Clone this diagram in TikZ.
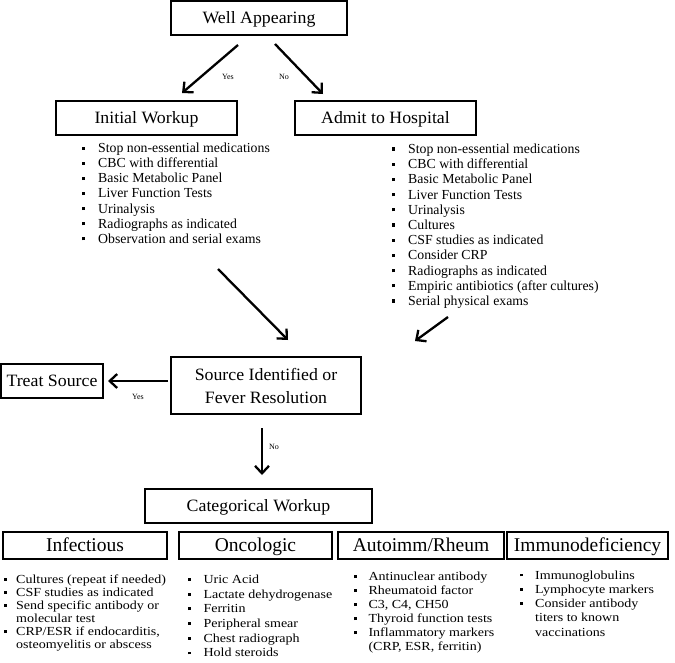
\documentclass[tikz,border=0pt]{standalone}
\usepackage{fontspec}
\setmainfont{Liberation Serif}
\newfontfamily\btfont[FakeStretch=1.14]{Liberation Serif}
\newfontfamily\hdfont[FakeStretch=1.03]{Liberation Serif}
\usetikzlibrary{arrows.meta}
\newlength{\liW}\newlength{\liS}\newlength{\liR}
\newcommand{\LI}[1]{\strut\makebox[\liW][l]{\rule[\liR]{\liS}{\liS}}#1}
\newcommand{\LC}[1]{\strut\hspace*{\liW}#1}
\tikzset{
  box/.style={draw, line width=1.1pt, inner sep=0pt, align=center},
  hd/.style={box, font=\hdfont\fontsize{17.3}{23}\selectfont, text height=11.45pt, text depth=0pt},
  hd2/.style={box, font=\hdfont\fontsize{17.3}{23}\selectfont},
  sub/.style={box, font=\fontsize{19.5}{23}\selectfont, text height=12.9pt, text depth=0pt},
  lab/.style={inner sep=0pt, font=\fontsize{8}{9}\selectfont},
  arr/.style={line width=2.3pt, -{Straight Barb[length=7.5pt,width=14pt,line width=2.3pt]}},
  toplist/.style={anchor=north west, inner sep=0pt, align=left,
    font=\fontsize{13.8}{#1}\selectfont},
  botlist/.style={anchor=north west, inner sep=0pt, align=left,
    font=\btfont\fontsize{12.3}{#1}\selectfont},
}
\begin{document}
\begin{tikzpicture}[x=1pt,y=-1pt]
\useasboundingbox (0,0) rectangle (675,662);

% header boxes
\node[hd, minimum width=176pt, minimum height=34pt] (well) at (259,18) {Well Appearing};
\node[hd, minimum width=181pt, minimum height=34pt] (init) at (146.5,118) {Initial Workup};
\node[hd, minimum width=181pt, minimum height=34pt] (admit) at (385.5,118) {Admit to Hospital};
\node[hd2, minimum width=190pt, minimum height=57pt] (src) at (266,385.5) {Source Identified or\\Fever Resolution};
\node[hd, minimum width=102pt, minimum height=34pt] (treat) at (52,381) {Treat Source};
\node[hd, minimum width=227pt, minimum height=34pt] (cat) at (258.5,506) {Categorical Workup};

\node[sub, minimum width=164pt, minimum height=27pt] (inf) at (85,545.5) {Infectious};
\node[sub, minimum width=153pt, minimum height=27pt] (onc) at (255.5,545.5) {Oncologic};
\node[sub, minimum width=166pt, minimum height=27pt] (aut) at (421,545.5) {Autoimm/Rheum};
\node[sub, minimum width=161pt, minimum height=27pt] (imm) at (587.5,545.5) {Immunodeficiency};

% lists
\setlength{\liW}{16.7pt}\setlength{\liS}{3.3pt}\setlength{\liR}{2.85pt}
\node[toplist=15.1] (initL) at (81.3,141.9) {\LI{Stop non-essential medications}\\
\LI{CBC with differential}\\
\LI{Basic Metabolic Panel}\\
\LI{Liver Function Tests}\\
\LI{Urinalysis}\\
\LI{Radiographs as indicated}\\
\LI{Observation and serial exams}};

\node[toplist=15.2] (admitL) at (391.3,142.7) {\LI{Stop non-essential medications}\\
\LI{CBC with differential}\\
\LI{Basic Metabolic Panel}\\
\LI{Liver Function Tests}\\
\LI{Urinalysis}\\
\LI{Cultures}\\
\LI{CSF studies as indicated}\\
\LI{Consider CRP}\\
\LI{Radiographs as indicated}\\
\LI{Empiric antibiotics (after cultures)}\\
\LI{Serial physical exams}};

\setlength{\liS}{2.8pt}\setlength{\liR}{2.7pt}
\setlength{\liW}{12.4pt}
\node[botlist=11.6] (infL) at (3.6,574.6) {\LI{Cultures (repeat if needed)}\\
\LI{CSF studies as indicated}\\
\LI{Send specific antibody or}\\
\LC{molecular test}\\
\LI{CRP/ESR if endocarditis,}\\
\LC{osteomyelitis or abscess}};

\setlength{\liW}{15.3pt}
\node[botlist=14.7] (oncL) at (188,573) {\LI{Uric Acid}\\
\LI{Lactate dehydrogenase}\\
\LI{Ferritin}\\
\LI{Peripheral smear}\\
\LI{Chest radiograph}\\
\LI{Hold steroids}};

\setlength{\liW}{14.6pt}
\node[botlist=14] (autL) at (353.7,570.9) {\LI{Antinuclear antibody}\\
\LI{Rheumatoid factor}\\
\LI{C3, C4, CH50}\\
\LI{Thyroid function tests}\\
\LI{Inflammatory markers}\\
\LC{(CRP, ESR, ferritin)}};

\setlength{\liW}{15.3pt}
\node[botlist=14.25] (immL) at (519.7,569) {\LI{Immunoglobulins}\\
\LI{Lymphocyte markers}\\
\LI{Consider antibody}\\
\LC{titers to known}\\
\LC{vaccinations}};

% arrow end points
\coordinate (yesS) at (238,45);
\coordinate (yesE) at (182,93);
\coordinate (noS) at (275,44);
\coordinate (noE) at (323,94);
\coordinate (iS) at (218,269);
\coordinate (iE) at (288,340);
\coordinate (aS) at (448,317);
\coordinate (aE) at (415,341);
\coordinate (tS) at (168,381);
\coordinate (tE) at (108,381);
\coordinate (cS) at (262,428);
\coordinate (cE) at (262,475);

\draw[arr] (yesS) -- (yesE);
\draw[arr] (noS) -- (noE);
\draw[arr] (iS) -- (iE);
\draw[arr] (aS) -- (aE);
\draw[arr] (tS) -- (tE);
\draw[arr] (cS) -- (cE);

\node[lab] (l1) at (228,77) {Yes};
\node[lab] (l2) at (284,77) {No};
\node[lab] (l3) at (138,397) {Yes};
\node[lab] (l4) at (274,447) {No};
\end{tikzpicture}
\end{document}
